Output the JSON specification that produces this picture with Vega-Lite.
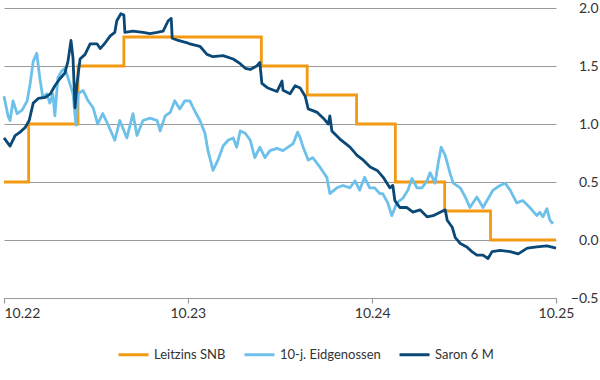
{
  "$schema": "https://vega.github.io/schema/vega-lite/v6.json",
  "width": 552,
  "height": 290,
  "autosize": {"type": "none"},
  "padding": {"left": 4, "top": 8, "right": 44, "bottom": 82},
  "background": "white",
  "config": {
    "view": {"stroke": null},
    "font": "Lato",
    "axis": {"labelFont": "Lato", "labelFontSize": 14, "labelColor": "#333333"},
    "legend": {"labelFont": "Lato", "labelFontSize": 13, "labelColor": "#333333"}
  },
  "datasets": {
    "snb": [
      {"Datum": "2022-10-27", "Wert": 0.5},
      {"Datum": "2022-12-15", "Wert": 1.0},
      {"Datum": "2023-03-23", "Wert": 1.5},
      {"Datum": "2023-06-22", "Wert": 1.75},
      {"Datum": "2024-03-21", "Wert": 1.5},
      {"Datum": "2024-06-20", "Wert": 1.25},
      {"Datum": "2024-09-26", "Wert": 1.0},
      {"Datum": "2024-12-12", "Wert": 0.5},
      {"Datum": "2025-03-20", "Wert": 0.25},
      {"Datum": "2025-06-19", "Wert": 0.0},
      {"Datum": "2025-10-27", "Wert": 0.0}
    ],
    "eidg": [
      {"Datum": "2022-10-27", "Wert": 1.24},
      {"Datum": "2022-11-04", "Wert": 1.07},
      {"Datum": "2022-11-08", "Wert": 1.03},
      {"Datum": "2022-11-14", "Wert": 1.2},
      {"Datum": "2022-11-22", "Wert": 1.09},
      {"Datum": "2022-12-02", "Wert": 1.12},
      {"Datum": "2022-12-12", "Wert": 1.2},
      {"Datum": "2022-12-18", "Wert": 1.35},
      {"Datum": "2022-12-24", "Wert": 1.54},
      {"Datum": "2022-12-31", "Wert": 1.61},
      {"Datum": "2023-01-06", "Wert": 1.4},
      {"Datum": "2023-01-12", "Wert": 1.23},
      {"Datum": "2023-01-20", "Wert": 1.26},
      {"Datum": "2023-01-26", "Wert": 1.18},
      {"Datum": "2023-02-01", "Wert": 1.26},
      {"Datum": "2023-02-05", "Wert": 1.07},
      {"Datum": "2023-02-11", "Wert": 1.4},
      {"Datum": "2023-02-19", "Wert": 1.46},
      {"Datum": "2023-02-25", "Wert": 1.48},
      {"Datum": "2023-03-03", "Wert": 1.4},
      {"Datum": "2023-03-13", "Wert": 1.26},
      {"Datum": "2023-03-19", "Wert": 0.99},
      {"Datum": "2023-03-23", "Wert": 1.26},
      {"Datum": "2023-04-02", "Wert": 1.29},
      {"Datum": "2023-04-12", "Wert": 1.2},
      {"Datum": "2023-04-22", "Wert": 1.14},
      {"Datum": "2023-05-01", "Wert": 1.0},
      {"Datum": "2023-05-11", "Wert": 1.09},
      {"Datum": "2023-05-21", "Wert": 1.0},
      {"Datum": "2023-06-04", "Wert": 0.86},
      {"Datum": "2023-06-14", "Wert": 1.03},
      {"Datum": "2023-06-28", "Wert": 0.88},
      {"Datum": "2023-07-10", "Wert": 1.09},
      {"Datum": "2023-07-18", "Wert": 0.9},
      {"Datum": "2023-07-30", "Wert": 1.03},
      {"Datum": "2023-08-13", "Wert": 1.05},
      {"Datum": "2023-08-27", "Wert": 1.03},
      {"Datum": "2023-09-02", "Wert": 0.94},
      {"Datum": "2023-09-12", "Wert": 1.07},
      {"Datum": "2023-09-22", "Wert": 1.1},
      {"Datum": "2023-10-01", "Wert": 1.2},
      {"Datum": "2023-10-11", "Wert": 1.13},
      {"Datum": "2023-10-21", "Wert": 1.2},
      {"Datum": "2023-10-31", "Wert": 1.2},
      {"Datum": "2023-11-10", "Wert": 1.11},
      {"Datum": "2023-11-20", "Wert": 1.03},
      {"Datum": "2023-11-30", "Wert": 0.92},
      {"Datum": "2023-12-06", "Wert": 0.77},
      {"Datum": "2023-12-16", "Wert": 0.6},
      {"Datum": "2023-12-26", "Wert": 0.69},
      {"Datum": "2024-01-05", "Wert": 0.81},
      {"Datum": "2024-01-15", "Wert": 0.86},
      {"Datum": "2024-01-25", "Wert": 0.88},
      {"Datum": "2024-02-01", "Wert": 0.8},
      {"Datum": "2024-02-08", "Wert": 0.94},
      {"Datum": "2024-02-18", "Wert": 0.92},
      {"Datum": "2024-02-28", "Wert": 0.86},
      {"Datum": "2024-03-08", "Wert": 0.71},
      {"Datum": "2024-03-18", "Wert": 0.8},
      {"Datum": "2024-03-28", "Wert": 0.71},
      {"Datum": "2024-04-07", "Wert": 0.77},
      {"Datum": "2024-04-21", "Wert": 0.79},
      {"Datum": "2024-05-03", "Wert": 0.77},
      {"Datum": "2024-05-13", "Wert": 0.8},
      {"Datum": "2024-05-23", "Wert": 0.83},
      {"Datum": "2024-06-01", "Wert": 0.93},
      {"Datum": "2024-06-06", "Wert": 0.88},
      {"Datum": "2024-06-12", "Wert": 0.8},
      {"Datum": "2024-06-22", "Wert": 0.69},
      {"Datum": "2024-07-01", "Wert": 0.71},
      {"Datum": "2024-07-15", "Wert": 0.63},
      {"Datum": "2024-07-29", "Wert": 0.54},
      {"Datum": "2024-08-04", "Wert": 0.4},
      {"Datum": "2024-08-18", "Wert": 0.45},
      {"Datum": "2024-08-30", "Wert": 0.47},
      {"Datum": "2024-09-13", "Wert": 0.45},
      {"Datum": "2024-09-23", "Wert": 0.51},
      {"Datum": "2024-10-02", "Wert": 0.43},
      {"Datum": "2024-10-12", "Wert": 0.54},
      {"Datum": "2024-10-22", "Wert": 0.45},
      {"Datum": "2024-11-01", "Wert": 0.45},
      {"Datum": "2024-11-11", "Wert": 0.4},
      {"Datum": "2024-11-17", "Wert": 0.4},
      {"Datum": "2024-11-27", "Wert": 0.32},
      {"Datum": "2024-12-05", "Wert": 0.21},
      {"Datum": "2024-12-15", "Wert": 0.32},
      {"Datum": "2024-12-27", "Wert": 0.36},
      {"Datum": "2025-01-06", "Wert": 0.43},
      {"Datum": "2025-01-14", "Wert": 0.53},
      {"Datum": "2025-01-24", "Wert": 0.45},
      {"Datum": "2025-02-03", "Wert": 0.45},
      {"Datum": "2025-02-13", "Wert": 0.51},
      {"Datum": "2025-02-19", "Wert": 0.58},
      {"Datum": "2025-03-01", "Wert": 0.49},
      {"Datum": "2025-03-07", "Wert": 0.66},
      {"Datum": "2025-03-13", "Wert": 0.8},
      {"Datum": "2025-03-21", "Wert": 0.73},
      {"Datum": "2025-03-31", "Wert": 0.57},
      {"Datum": "2025-04-06", "Wert": 0.49},
      {"Datum": "2025-04-20", "Wert": 0.45},
      {"Datum": "2025-04-30", "Wert": 0.37},
      {"Datum": "2025-05-09", "Wert": 0.28},
      {"Datum": "2025-05-23", "Wert": 0.37},
      {"Datum": "2025-06-04", "Wert": 0.28},
      {"Datum": "2025-06-12", "Wert": 0.34},
      {"Datum": "2025-06-24", "Wert": 0.43},
      {"Datum": "2025-07-08", "Wert": 0.47},
      {"Datum": "2025-07-18", "Wert": 0.49},
      {"Datum": "2025-07-28", "Wert": 0.43},
      {"Datum": "2025-08-10", "Wert": 0.32},
      {"Datum": "2025-08-22", "Wert": 0.34},
      {"Datum": "2025-09-05", "Wert": 0.28},
      {"Datum": "2025-09-19", "Wert": 0.21},
      {"Datum": "2025-09-25", "Wert": 0.24},
      {"Datum": "2025-10-01", "Wert": 0.2},
      {"Datum": "2025-10-09", "Wert": 0.27},
      {"Datum": "2025-10-15", "Wert": 0.17},
      {"Datum": "2025-10-21", "Wert": 0.14}
    ],
    "saron": [
      {"Datum": "2022-10-27", "Wert": 0.88},
      {"Datum": "2022-11-08", "Wert": 0.81},
      {"Datum": "2022-11-18", "Wert": 0.9},
      {"Datum": "2022-11-28", "Wert": 0.93},
      {"Datum": "2022-12-08", "Wert": 0.97},
      {"Datum": "2022-12-16", "Wert": 1.03},
      {"Datum": "2022-12-24", "Wert": 1.18},
      {"Datum": "2023-01-03", "Wert": 1.22},
      {"Datum": "2023-01-17", "Wert": 1.23},
      {"Datum": "2023-01-27", "Wert": 1.26},
      {"Datum": "2023-02-05", "Wert": 1.33},
      {"Datum": "2023-02-15", "Wert": 1.39},
      {"Datum": "2023-02-25", "Wert": 1.44},
      {"Datum": "2023-03-03", "Wert": 1.54},
      {"Datum": "2023-03-09", "Wert": 1.72},
      {"Datum": "2023-03-13", "Wert": 1.57},
      {"Datum": "2023-03-17", "Wert": 1.14},
      {"Datum": "2023-03-21", "Wert": 1.35},
      {"Datum": "2023-03-27", "Wert": 1.56},
      {"Datum": "2023-04-06", "Wert": 1.6},
      {"Datum": "2023-04-16", "Wert": 1.69},
      {"Datum": "2023-04-30", "Wert": 1.69},
      {"Datum": "2023-05-06", "Wert": 1.65},
      {"Datum": "2023-05-16", "Wert": 1.7},
      {"Datum": "2023-05-26", "Wert": 1.76},
      {"Datum": "2023-06-04", "Wert": 1.79},
      {"Datum": "2023-06-08", "Wert": 1.89},
      {"Datum": "2023-06-16", "Wert": 1.95},
      {"Datum": "2023-06-22", "Wert": 1.94},
      {"Datum": "2023-06-24", "Wert": 1.79},
      {"Datum": "2023-07-10", "Wert": 1.8},
      {"Datum": "2023-07-30", "Wert": 1.79},
      {"Datum": "2023-08-13", "Wert": 1.78},
      {"Datum": "2023-08-27", "Wert": 1.79},
      {"Datum": "2023-09-08", "Wert": 1.8},
      {"Datum": "2023-09-18", "Wert": 1.89},
      {"Datum": "2023-09-24", "Wert": 1.91},
      {"Datum": "2023-09-26", "Wert": 1.74},
      {"Datum": "2023-10-08", "Wert": 1.72},
      {"Datum": "2023-10-26", "Wert": 1.7},
      {"Datum": "2023-10-31", "Wert": 1.69},
      {"Datum": "2023-11-20", "Wert": 1.67},
      {"Datum": "2023-12-04", "Wert": 1.6},
      {"Datum": "2023-12-16", "Wert": 1.58},
      {"Datum": "2024-01-05", "Wert": 1.59},
      {"Datum": "2024-01-25", "Wert": 1.56},
      {"Datum": "2024-02-08", "Wert": 1.52},
      {"Datum": "2024-02-18", "Wert": 1.48},
      {"Datum": "2024-02-28", "Wert": 1.47},
      {"Datum": "2024-03-12", "Wert": 1.5},
      {"Datum": "2024-03-18", "Wert": 1.53},
      {"Datum": "2024-03-22", "Wert": 1.35},
      {"Datum": "2024-04-03", "Wert": 1.31},
      {"Datum": "2024-04-21", "Wert": 1.28},
      {"Datum": "2024-05-01", "Wert": 1.37},
      {"Datum": "2024-05-03", "Wert": 1.29},
      {"Datum": "2024-05-17", "Wert": 1.26},
      {"Datum": "2024-05-27", "Wert": 1.33},
      {"Datum": "2024-06-06", "Wert": 1.31},
      {"Datum": "2024-06-16", "Wert": 1.24},
      {"Datum": "2024-06-22", "Wert": 1.13},
      {"Datum": "2024-07-10", "Wert": 1.1},
      {"Datum": "2024-07-22", "Wert": 1.05},
      {"Datum": "2024-08-01", "Wert": 1.0},
      {"Datum": "2024-08-04", "Wert": 1.07},
      {"Datum": "2024-08-08", "Wert": 0.94},
      {"Datum": "2024-08-24", "Wert": 0.87},
      {"Datum": "2024-09-13", "Wert": 0.8},
      {"Datum": "2024-09-27", "Wert": 0.73},
      {"Datum": "2024-10-09", "Wert": 0.69},
      {"Datum": "2024-10-23", "Wert": 0.63},
      {"Datum": "2024-11-06", "Wert": 0.6},
      {"Datum": "2024-11-18", "Wert": 0.54},
      {"Datum": "2024-12-01", "Wert": 0.45},
      {"Datum": "2024-12-07", "Wert": 0.47},
      {"Datum": "2024-12-11", "Wert": 0.34},
      {"Datum": "2024-12-21", "Wert": 0.28},
      {"Datum": "2025-01-04", "Wert": 0.28},
      {"Datum": "2025-01-16", "Wert": 0.24},
      {"Datum": "2025-01-30", "Wert": 0.26},
      {"Datum": "2025-02-13", "Wert": 0.2},
      {"Datum": "2025-02-25", "Wert": 0.21},
      {"Datum": "2025-03-11", "Wert": 0.24},
      {"Datum": "2025-03-21", "Wert": 0.26},
      {"Datum": "2025-03-25", "Wert": 0.17},
      {"Datum": "2025-04-04", "Wert": 0.11},
      {"Datum": "2025-04-10", "Wert": 0.02},
      {"Datum": "2025-04-20", "Wert": -0.03},
      {"Datum": "2025-05-03", "Wert": -0.06},
      {"Datum": "2025-05-13", "Wert": -0.1},
      {"Datum": "2025-05-23", "Wert": -0.13},
      {"Datum": "2025-06-04", "Wert": -0.13},
      {"Datum": "2025-06-14", "Wert": -0.16},
      {"Datum": "2025-06-22", "Wert": -0.1},
      {"Datum": "2025-07-08", "Wert": -0.09},
      {"Datum": "2025-07-28", "Wert": -0.1},
      {"Datum": "2025-08-13", "Wert": -0.12},
      {"Datum": "2025-08-31", "Wert": -0.07},
      {"Datum": "2025-09-19", "Wert": -0.06},
      {"Datum": "2025-10-09", "Wert": -0.05},
      {"Datum": "2025-10-27", "Wert": -0.07}
    ]
  },
  "encoding": {
    "x": {
      "field": "Datum",
      "type": "temporal",
      "scale": {
        "type": "utc",
        "domain": [
          {"year": 2022, "month": 10, "date": 27, "utc": true},
          {"year": 2025, "month": 10, "date": 27, "utc": true}
        ]
      },
      "axis": {
        "title": null,
        "values": [
          {"year": 2022, "month": 10, "date": 27, "utc": true},
          {"year": 2023, "month": 10, "date": 27, "utc": true},
          {"year": 2024, "month": 10, "date": 27, "utc": true},
          {"year": 2025, "month": 10, "date": 27, "utc": true}
        ],
        "labelExpr": "utcFormat(datum.value, '%m.%y')",
        "grid": false,
        "domainColor": "#9a9a9a",
        "domainWidth": 1.2,
        "tickColor": "#9a9a9a",
        "tickWidth": 1.2,
        "tickSize": 5,
        "labelPadding": 3,
        "labelAlign": {"condition": {"test": "datum.index === 0", "value": "left"}, "value": "center"},
        "labelBound": false
      }
    },
    "y": {
      "field": "Wert",
      "type": "quantitative",
      "scale": {"domain": [-0.5, 2.0], "nice": false, "zero": false},
      "axis": {
        "title": null,
        "orient": "right",
        "values": [-0.5, 0, 0.5, 1.0, 1.5, 2.0],
        "format": ".1f",
        "domain": false,
        "ticks": false,
        "grid": true,
        "gridColor": "#9a9a9a",
        "gridWidth": 1.2,
        "labelAlign": "right",
        "labelPadding": 42,
        "labelBaseline": "middle"
      }
    },
    "color": {
      "field": "Serie",
      "type": "nominal",
      "scale": {
        "domain": ["Leitzins SNB", "10-j. Eidgenossen", "Saron 6 M"],
        "range": ["#F29A12", "#6CC0EA", "#0A4877"]
      },
      "legend": {
        "title": null,
        "orient": "none",
        "direction": "horizontal",
        "legendX": 113,
        "legendY": 330,
        "symbolType": "stroke",
        "symbolSize": 900,
        "symbolStrokeWidth": 3,
        "labelOffset": 4,
        "columnPadding": 12
      }
    }
  },
  "layer": [
    {
      "data": {"name": "snb"},
      "transform": [{"calculate": "'Leitzins SNB'", "as": "Serie"}],
      "mark": {"type": "line", "interpolate": "step-after", "strokeWidth": 2.8}
    },
    {
      "data": {"name": "eidg"},
      "transform": [{"calculate": "'10-j. Eidgenossen'", "as": "Serie"}],
      "mark": {"type": "line", "strokeWidth": 2.8, "strokeJoin": "round"}
    },
    {
      "data": {"name": "saron"},
      "transform": [{"calculate": "'Saron 6 M'", "as": "Serie"}],
      "mark": {"type": "line", "strokeWidth": 2.8, "strokeJoin": "round"}
    }
  ]
}
